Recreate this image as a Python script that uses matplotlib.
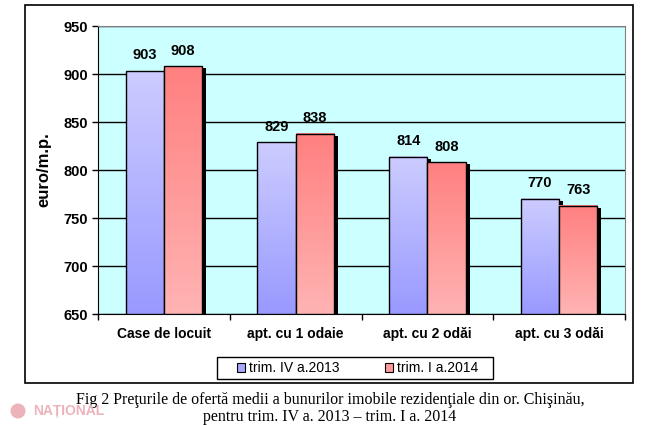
import numpy as np
import matplotlib
matplotlib.use("Agg")
import matplotlib.pyplot as plt
from matplotlib.patches import Rectangle, Circle
import matplotlib.transforms as mtransforms
from matplotlib.colors import to_rgb

categories = ["Case de locuit", "apt. cu 1 odaie", "apt. cu 2 odăi", "apt. cu 3 odăi"]
series_names = ["trim. IV a.2013", "trim. I a.2014"]
q4_2013 = [903, 829, 814, 770]
q1_2014 = [908, 838, 808, 763]
yticks = [650, 700, 750, 800, 850, 900, 950]

plt.rcParams['font.family'] = ['Liberation Sans', 'DejaVu Sans']

fig = plt.figure(figsize=(6.58, 4.25), dpi=100)
ax = fig.add_axes([98/658, 1-314/425, (625-98)/658, (314-26)/425])
ax.set_facecolor('#CCFFFF')
ax.set_xlim(-0.5, 3.5)
ax.set_ylim(650, 950)
ax.set_yticks(yticks)
ax.yaxis.grid(True, color='black', linewidth=1.0)
ax.set_axisbelow(True)

grads = [('#CCCCFF', '#9999FF'), ('#FF8080', '#FFB3B3')]
w = 0.29
offset = mtransforms.ScaledTranslation(4/100, -2/100, fig.dpi_scale_trans)
z = 3
for i in range(len(categories)):
    for s, vals in enumerate([q4_2013, q1_2014]):
        v = vals[i]
        x0 = i - w + s * w
        sh = Rectangle((x0, 650), w, v - 650, facecolor='black', edgecolor='none',
                       transform=ax.transData + offset, zorder=z)
        ax.add_patch(sh)
        top, bot = np.array(to_rgb(grads[s][0])), np.array(to_rgb(grads[s][1]))
        t = np.linspace(0, 1, 100)[:, None]
        img = (top * (1 - t) + bot * t)[:, None, :]
        ax.imshow(img, extent=(x0, x0 + w, 650, v), aspect='auto', origin='upper',
                  zorder=z + 1, interpolation='bilinear')
        ax.add_patch(Rectangle((x0, 650), w, v - 650, facecolor='none', edgecolor='black',
                               linewidth=1.0, zorder=z + 2))
        ax.text(x0 + w/2, v + 9, str(v), ha='center', va='bottom', fontsize=10.5,
                fontweight='bold', zorder=z + 3)
        z += 4

ax.set_xlim(-0.5, 3.5)
ax.set_ylim(650, 950)
ax.set_xticks([-0.5, 0.5, 1.5, 2.5, 3.5])
ax.set_xticklabels([])
for i, c in enumerate(categories):
    ax.text(i, -0.068, c, transform=ax.get_xaxis_transform(), ha='center', va='center',
            fontsize=10, fontweight='bold')
ax.tick_params(axis='x', direction='out', length=4, width=1, color='black')
ax.tick_params(axis='y', direction='out', length=4, width=1, color='black', labelsize=10.5, pad=3)
for lab in ax.get_yticklabels():
    lab.set_fontweight('bold')
for sp in ['top', 'right']:
    ax.spines[sp].set_color('#808080')
for sp in ['left', 'bottom']:
    ax.spines[sp].set_color('black')
ax.set_ylabel('euro/m.p.', fontsize=12, fontweight='bold')
ax.yaxis.set_label_coords(-0.089, 0.5)

handles = [Rectangle((0, 0), 1, 1, facecolor='#A8A8FF', edgecolor='black', linewidth=0.8),
           Rectangle((0, 0), 1, 1, facecolor='#FF9A9A', edgecolor='black', linewidth=0.8)]
leg = fig.legend(handles, series_names, loc='center', bbox_to_anchor=(357.5/658, 1-368/425),
                 ncol=2, frameon=False, fontsize=10,
                 handlelength=0.6, handleheight=0.6, handletextpad=0.25, columnspacing=3.3,
                 borderpad=0.3)
fig.patches.append(Rectangle((217/658, 1-379/425), (493-217)/658, 22/425,
                             transform=fig.transFigure, facecolor='white', edgecolor='black',
                             linewidth=1.0, zorder=0.5))

fig.patches.append(Rectangle((25/658, 1-383/425), (633-25)/658, (383-5)/425,
                             transform=fig.transFigure, facecolor='none', edgecolor='black',
                             linewidth=1.2))

fig.text(330/658, 1-400/425, "Fig 2 Preţurile de ofertă medii a bunurilor imobile rezidenţiale din or. Chişinău,",
         ha='center', va='center', fontsize=11.5, family=['Liberation Serif', 'DejaVu Serif'])
fig.text(330/658, 1-417/425, "pentru trim. IV a. 2013 – trim. I a. 2014",
         ha='center', va='center', fontsize=11.5, family=['Liberation Serif', 'DejaVu Serif'])

# faint watermark
fig.patches.append(Circle((18/100, (425-411)/100), 0.075, transform=fig.dpi_scale_trans,
                          facecolor='#E9A7AE', edgecolor='none', alpha=0.85))
fig.text(33/658, 1-411.5/425, "NAȚIONAL", ha='left', va='center', fontsize=10, fontweight='bold',
         color='#EDB3BA')

fig.savefig('out.png', dpi=100)
